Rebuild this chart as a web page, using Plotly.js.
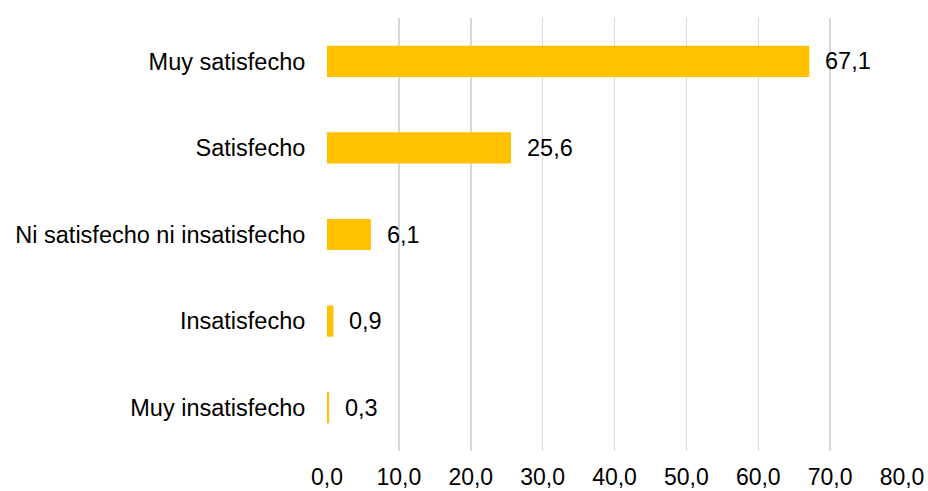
<!DOCTYPE html>
<html>
<head>
<meta charset="utf-8">
<script src="https://cdn.plot.ly/plotly-3.0.1.min.js"></script>
<style>html,body{margin:0;padding:0;background:#fff;}#chart{width:928px;height:491px;}</style>
</head>
<body>
<div id="chart"></div>
<script>
const categories = ["Muy satisfecho", "Satisfecho", "Ni satisfecho ni insatisfecho", "Insatisfecho", "Muy insatisfecho"];
const values = [67.1, 25.6, 6.1, 0.9, 0.3];
const tickValues = [0, 10, 20, 30, 40, 50, 60, 70, 80];

const fontFam = "Liberation Sans, Arial, sans-serif";
const trace = {
  type: "bar",
  orientation: "h",
  y: categories,
  x: values,
  marker: {color: "#FFC000"},
  hoverinfo: "none"
};

const annotations = values.map((v, i) => ({
  x: v, y: categories[i], xref: "x", yref: "y",
  text: v.toFixed(1).replace(".", ","),
  showarrow: false, xanchor: "left", xshift: 14,
  font: {family: fontFam, size: 23.5, color: "#000"}
}));

const layout = {
  width: 928, height: 491,
  margin: {l: 327, r: 26, t: 18, b: 40},
  paper_bgcolor: "#fff", plot_bgcolor: "#fff",
  separators: ",.",
  bargap: 0.64,
  showlegend: false,
  font: {family: fontFam, size: 23.5, color: "#000"},
  xaxis: {
    range: [0, 80],
    tickvals: tickValues,
    tickformat: ".1f",
    showgrid: true, gridcolor: "#d9d9d9", gridwidth: 1.5,
    zeroline: false, showline: false,
    ticks: "outside", ticklen: 5, tickcolor: "rgba(0,0,0,0)",
    tickfont: {family: fontFam, size: 23, color: "#000"},
    fixedrange: true
  },
  yaxis: {
    categoryorder: "array",
    categoryarray: categories.slice().reverse(),
    autorange: true,
    showgrid: false, zeroline: false, showline: false,
    ticks: "outside", ticklen: 16, tickcolor: "rgba(0,0,0,0)",
    tickfont: {family: fontFam, size: 23.5, color: "#000"},
    fixedrange: true
  },
  annotations: annotations
};

Plotly.newPlot("chart", [trace], layout, {displayModeBar: false, staticPlot: true});
</script>
</body>
</html>
